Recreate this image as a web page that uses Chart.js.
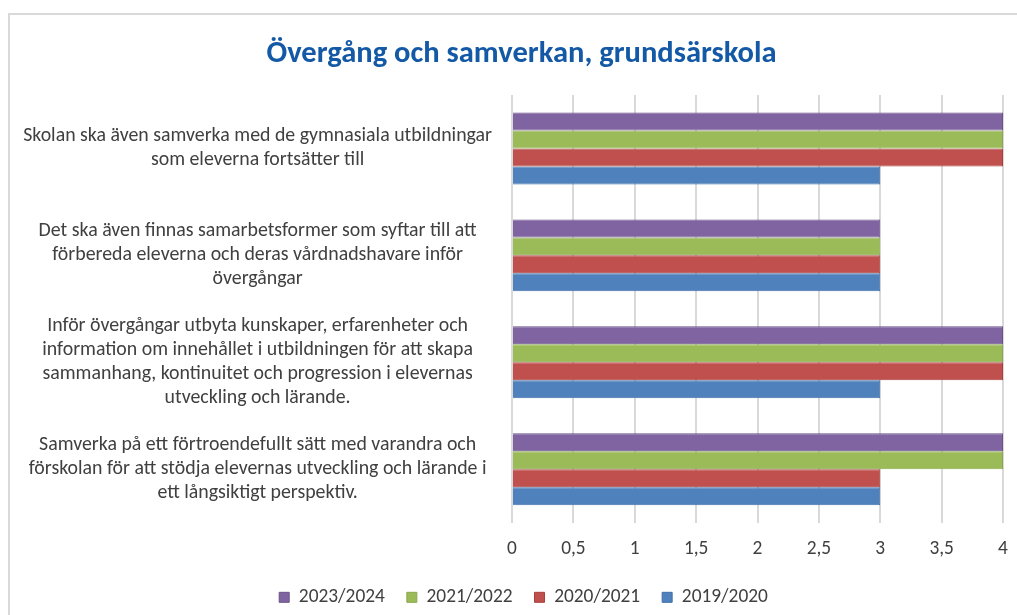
<!DOCTYPE html>
<html>
<head>
<meta charset="utf-8">
<script src="https://cdn.jsdelivr.net/npm/chart.js@4/dist/chart.umd.min.js"></script>
<style>
  html, body { margin: 0; padding: 0; background: #ffffff; }
  #wrap { position: relative; width: 1017px; height: 615px; }
</style>
</head>
<body>
<div id="wrap"><canvas id="c" width="1017" height="615"></canvas></div>
<script>
// ---- data ----
const title = 'Övergång och samverkan, grundsärskola';
const categories = [
  ['Skolan ska även samverka med de gymnasiala utbildningar', 'som eleverna fortsätter till'],
  ['Det ska även finnas samarbetsformer som syftar till att', 'förbereda eleverna och deras vårdnadshavare inför', 'övergångar'],
  ['Inför övergångar utbyta kunskaper, erfarenheter och', 'information om innehållet i utbildningen för att skapa', 'sammanhang, kontinuitet och progression i elevernas', 'utveckling och lärande.'],
  ['Samverka på ett förtroendefullt sätt med varandra och', 'förskolan för att stödja elevernas utveckling och lärande i', 'ett långsiktigt perspektiv.']
];
const seriesNames = ['2023/2024', '2021/2022', '2020/2021', '2019/2020'];
const values2023_2024 = [4, 3, 4, 4];
const values2021_2022 = [4, 3, 4, 4];
const values2020_2021 = [4, 3, 4, 3];
const values2019_2020 = [3, 3, 3, 3];
const xMin = 0, xMax = 4, xStep = 0.5;

// ---- styling ----
const FONT = 'Calibri, Carlito, Lato, "Liberation Sans", sans-serif';
const fills = ['#8064A2', '#9BBB59', '#C0504D', '#4F81BD'];
const borders = ['#6a5189', '#89a84c', '#a9403d', '#3f6fa9'];

const mctx = document.createElement('canvas').getContext('2d');
function fit(text, target, weight) {
  mctx.font = (weight || 'normal') + ' 100px ' + FONT;
  return 100 * target / mctx.measureText(text).width;
}
const titleSize = fit(title, 510, 'bold');
const labelSize = fit('Skolan ska även samverka med de gymnasiala utbildningar', 469);
const tickSize = fit('0,5', 24.5);
const legendSize = fit('2023/2024', 86);

const titleLH = Math.round(titleSize * 1.2);
const titlePadTop = Math.round(54 - titleLH / 2);
const titlePadBottom = 95 - titlePadTop - titleLH;

const frame = {
  id: 'frame',
  beforeDraw(chart) {
    const ctx = chart.ctx;
    ctx.save();
    ctx.fillStyle = '#ffffff';
    ctx.fillRect(0, 0, chart.width, chart.height);
    ctx.strokeStyle = '#d9d9d9';
    ctx.lineWidth = 2;
    ctx.strokeRect(9, 14, 1200, 800);
    ctx.restore();
  },
  afterLayout(chart) {
    // centre title and legend the way the reference does
    if (chart.titleBlock) { chart.titleBlock.left = 26; chart.titleBlock.right = 1017; }
    if (chart.legend) { chart.legend.left = 30; chart.legend.right = 1017; }
  }
};

const valueSets = [values2023_2024, values2021_2022, values2020_2021, values2019_2020];

new Chart(document.getElementById('c'), {
  type: 'bar',
  data: {
    labels: categories,
    datasets: seriesNames.map((n, i) => ({
      label: n,
      data: valueSets[i],
      backgroundColor: fills[i],
      borderColor: borders[i],
      borderWidth: 1,
      categoryPercentage: 0.673,
      barPercentage: 1.0
    }))
  },
  options: {
    indexAxis: 'y',
    responsive: false,
    animation: false,
    layout: { padding: { top: 0, left: 0, right: 14, bottom: -2 } },
    plugins: {
      title: {
        display: true,
        text: title,
        color: '#1459a6',
        font: { family: FONT, size: titleSize, weight: 'bold', lineHeight: titleLH + 'px' },
        padding: { top: titlePadTop, bottom: titlePadBottom }
      },
      legend: {
        position: 'bottom',
        labels: {
          color: '#404040',
          font: { family: FONT, size: legendSize },
          boxWidth: 10,
          boxHeight: 10,
          padding: 22
        }
      },
      tooltip: { enabled: false }
    },
    scales: {
      x: {
        min: xMin,
        max: xMax,
        ticks: {
          stepSize: xStep,
          color: '#404040',
          padding: 0,
          font: { family: FONT, size: tickSize, lineHeight: '54px' },
          callback: (v) => String(v).replace('.', ',')
        },
        grid: { color: '#d9d9d9', lineWidth: 2, drawTicks: false },
        border: { display: false },
        afterFit: (s) => { s.height = 43; }
      },
      y: {
        ticks: {
          color: '#404040',
          crossAlign: 'center',
          padding: 20,
          font: { family: FONT, size: labelSize, lineHeight: '24px' }
        },
        grid: { display: false, drawTicks: false },
        border: { display: false },
        afterFit: (s) => { s.width = 512; }
      }
    }
  },
  plugins: [frame]
});
</script>
</body>
</html>
